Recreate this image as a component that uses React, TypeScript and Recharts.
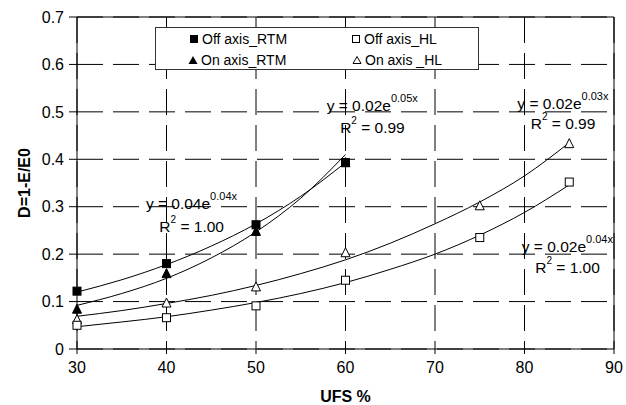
import React from 'react';
import {
  ComposedChart, Line, Scatter, XAxis, YAxis, CartesianGrid, ReferenceLine,
} from 'recharts';

// ---- data ----
const xTicks = [30, 40, 50, 60, 70, 80, 90];
const yTicks = [0, 0.1, 0.2, 0.3, 0.4, 0.5, 0.6, 0.7];

const rtmX = [30, 40, 50, 60];
const offAxisRtm = [0.122, 0.18, 0.262, 0.393];
const onAxisRtm = [0.085, 0.16, 0.249, 0.394];

const hlX = [30, 40, 50, 60, 75, 85];
const offAxisHl = [0.05, 0.066, 0.091, 0.145, 0.235, 0.352];
const onAxisHl = [0.063, 0.098, 0.132, 0.204, 0.303, 0.434];

// trend curves
const rtmTrendX = [30, 35, 40, 45, 50, 55, 60];
const offRtmTrend = [0.12, 0.146, 0.178, 0.217, 0.264, 0.322, 0.393];
const onRtmTrend = [0.092, 0.117, 0.149, 0.192, 0.247, 0.318, 0.41];

const hlTrendX = [30, 35, 40, 45, 50, 55, 60, 65, 70, 75, 80, 85];
const onHlTrend = [0.069, 0.081, 0.096, 0.113, 0.134, 0.159, 0.188, 0.223, 0.264, 0.31, 0.365, 0.435];
const offHlTrend = [0.047, 0.057, 0.068, 0.082, 0.098, 0.117, 0.14, 0.168, 0.2, 0.24, 0.288, 0.346];

// annotation labels (text + anchor in data units)
const annX = [37.7, 39.2, 57.9, 59.4, 79.2, 80.7, 79.7, 81.2];
const annY = [0.308, 0.26, 0.514, 0.468, 0.519, 0.477, 0.218, 0.173];
const annBase = ['y = 0.04e', 'R', 'y = 0.02e', 'R', 'y = 0.02e', 'R', 'y = 0.02e', 'R'];
const annSup = ['0.04x', '2', '0.05x', '2', '0.03x', '2', '0.04x', '2'];
const annTail = ['', ' = 1.00', '', ' = 0.99', '', ' = 0.99', '', ' = 1.00'];

const legendLabels = ['Off axis_RTM', 'On axis_RTM', 'Off axis_HL', 'On axis _HL'];

const zip = (xs: number[], ys: number[]) => xs.map((x, i) => ({ x, y: ys[i] }));

const offRtmPts = zip(rtmX, offAxisRtm);
const onRtmPts = zip(rtmX, onAxisRtm);
const offHlPts = zip(hlX, offAxisHl);
const onHlPts = zip(hlX, onAxisHl);
const offRtmLine = zip(rtmTrendX, offRtmTrend);
const onRtmLine = zip(rtmTrendX, onRtmTrend);
const onHlLine = zip(hlTrendX, onHlTrend);
const offHlLine = zip(hlTrendX, offHlTrend);
const annPts = annX.map((x, i) => ({ x, y: annY[i], base: annBase[i], sup: annSup[i], tail: annTail[i] }));

const FONT = '"Liberation Sans", Arial, Helvetica, sans-serif';

const square = (filled: boolean) => (p: any) => {
  const s = 8;
  return (
    <rect x={p.cx - s / 2} y={p.cy - s / 2} width={s} height={s}
      fill={filled ? '#000' : '#fff'} stroke="#000" strokeWidth={1} />
  );
};
const triangle = (filled: boolean) => (p: any) => {
  const h = 9;
  const w = 9;
  const pts = `${p.cx},${p.cy - h / 2} ${p.cx + w / 2},${p.cy + h / 2} ${p.cx - w / 2},${p.cy + h / 2}`;
  return <polygon points={pts} fill={filled ? '#000' : '#fff'} stroke="#000" strokeWidth={1} />;
};

const annShape = (p: any) => {
  const d = p.payload || {};
  const isEq = d.sup && d.sup.length > 1;
  return (
    <text x={p.cx} y={p.cy} fontFamily={FONT} fontSize={15.5} fill="#000" dominantBaseline="central">
      <tspan>{d.base}</tspan>
      <tspan fontSize={isEq ? 11 : 10} dy={-7}>{d.sup}</tspan>
      {d.tail ? <tspan dy={7}>{d.tail}</tspan> : null}
    </text>
  );
};

const LegendMark = ({ kind }: { kind: number }) => (
  <svg width={10} height={10} style={{ marginRight: 3 }}>
    {kind === 0 && <rect x={1} y={1} width={8} height={8} fill="#000" />}
    {kind === 1 && <polygon points="5,1 9.5,9 0.5,9" fill="#000" />}
    {kind === 2 && <rect x={1.5} y={1.5} width={7} height={7} fill="#fff" stroke="#000" />}
    {kind === 3 && <polygon points="5,1.5 9,8.5 1,8.5" fill="#fff" stroke="#000" />}
  </svg>
);

export default function App() {
  const item = (i: number, left: number, top: number) => (
    <div style={{ position: 'absolute', left, top, display: 'flex', alignItems: 'center', fontFamily: FONT, fontSize: 14, lineHeight: '16px', whiteSpace: 'nowrap' }}>
      <LegendMark kind={i} />
      <span>{legendLabels[i]}</span>
    </div>
  );
  return (
    <div style={{ position: 'absolute', left: 0, top: 0, width: 626, height: 405, background: '#fff' }}>
      <ComposedChart width={626} height={405} margin={{ top: 17, right: 12, bottom: 16, left: 17 }}>
        <CartesianGrid stroke="#000" strokeWidth={1} strokeDasharray="26 10" />
        <XAxis
          type="number" dataKey="x" domain={[30, 90]} ticks={xTicks}
          height={40} tickSize={5} tickMargin={8}
          axisLine={{ stroke: '#000' }} tickLine={{ stroke: '#000' }}
          tick={{ fill: '#000', fontSize: 16, fontFamily: FONT }}
          label={{ value: 'UFS %', position: 'insideBottom', offset: -13, fill: '#000', fontSize: 16, fontWeight: 'bold', fontFamily: FONT }}
        />
        <YAxis
          type="number" dataKey="y" domain={[0, 0.7]} ticks={yTicks}
          width={60} tickSize={8} tickMargin={5}
          tickFormatter={(v: number) => (v === 0 ? '0' : v.toFixed(1))}
          axisLine={{ stroke: '#000' }} tickLine={{ stroke: '#000' }}
          tick={{ fill: '#000', fontSize: 16, fontFamily: FONT }}
          label={{ value: 'D=1-E/E0', angle: -90, position: 'insideLeft', offset: 0, dx: 7, fill: '#000', fontSize: 16, fontWeight: 'bold', fontFamily: FONT, style: { textAnchor: 'middle' } }}
        />
        <ReferenceLine y={0.7} stroke="#000" strokeWidth={1} />
        <ReferenceLine x={90} stroke="#000" strokeWidth={1} />

        <Line data={offRtmLine} dataKey="y" type="monotone" stroke="#000" strokeWidth={1} dot={false} isAnimationActive={false} />
        <Line data={onRtmLine} dataKey="y" type="monotone" stroke="#000" strokeWidth={1} dot={false} isAnimationActive={false} />
        <Line data={onHlLine} dataKey="y" type="monotone" stroke="#000" strokeWidth={1} dot={false} isAnimationActive={false} />
        <Line data={offHlLine} dataKey="y" type="monotone" stroke="#000" strokeWidth={1} dot={false} isAnimationActive={false} />

        <Scatter data={onHlPts} dataKey="y" shape={triangle(false)} isAnimationActive={false} />
        <Scatter data={offHlPts} dataKey="y" shape={square(false)} isAnimationActive={false} />
        <Scatter data={onRtmPts} dataKey="y" shape={triangle(true)} isAnimationActive={false} />
        <Scatter data={offRtmPts} dataKey="y" shape={square(true)} isAnimationActive={false} />

        <Scatter data={annPts} dataKey="y" shape={annShape} isAnimationActive={false} />
      </ComposedChart>
      <div style={{ position: 'absolute', left: 155, top: 27, width: 322, height: 41, border: '1px solid #333', background: '#fff', boxSizing: 'content-box' }}>
        {item(0, 33, 3)}
        {item(1, 32, 24)}
        {item(2, 195, 3)}
        {item(3, 196, 24)}
      </div>
    </div>
  );
}
